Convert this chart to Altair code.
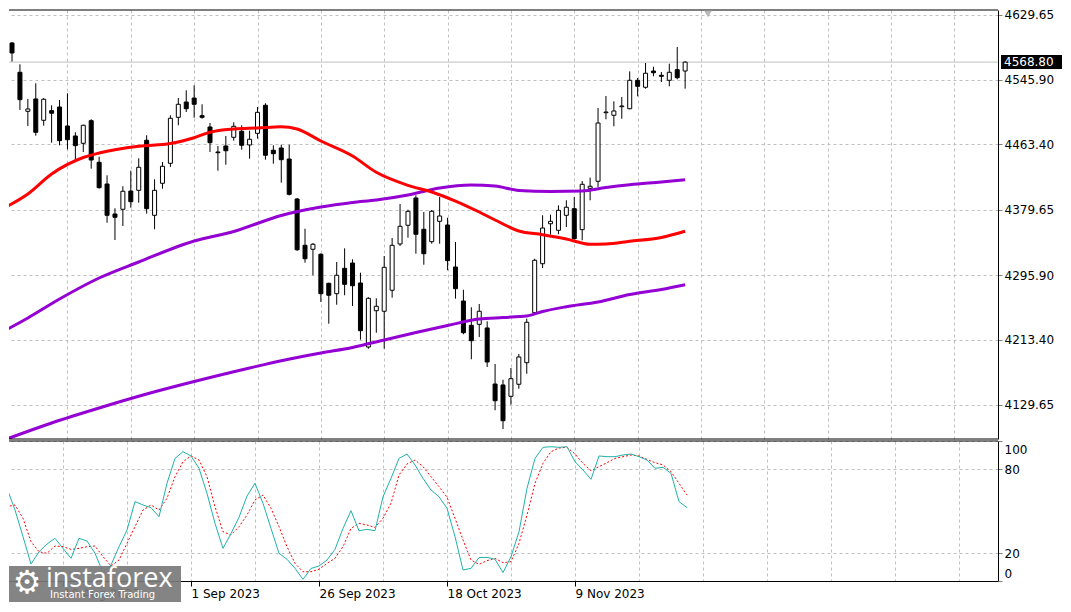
import altair as alt
import pandas as pd

# ---------------- data ----------------
# daily candles, bar index 0..85 (last bar = 30 Nov 2023)
opens = [4593.3, 4555.8, 4505.8, 4521.6, 4494.3, 4506.6, 4511.3, 4487.0, 4474.2, 4464.8,
         4493.8, 4440.5, 4412.7, 4374.3, 4380.3, 4403.7, 4404.6, 4468.7, 4372.6, 4413.6,
         4439.2, 4498.1, 4517.7, 4522.8, 4500.2, 4485.7, 4453.7, 4461.4, 4472.5, 4480.2,
         4462.7, 4477.6, 4513.5, 4455.9, 4458.8, 4444.7, 4393.5, 4334.2, 4329.1, 4322.7,
         4285.5, 4272.2, 4304.7, 4311.5, 4285.9, 4203.9, 4250.4, 4249.7, 4276.6, 4335.9,
         4359.8, 4394.8, 4354.7, 4338.8, 4364.9, 4360.2, 4306.4, 4262.8, 4231.7, 4233.0,
         4228.3, 4156.5, 4155.3, 4140.8, 4156.2, 4183.8, 4247.9, 4310.6, 4361.8, 4353.4,
         4372.6, 4381.1, 4354.2, 4407.2, 4416.2, 4504.0, 4500.7, 4511.7, 4509.1, 4545.5,
         4536.6, 4557.4, 4551.9, 4545.5, 4559.1, 4557.4]
highs = [4594.6, 4566.0, 4521.6, 4541.7, 4522.8, 4513.5, 4520.3, 4528.9, 4478.9, 4488.6,
         4495.6, 4447.7, 4423.8, 4381.6, 4409.8, 4429.7, 4445.6, 4475.1, 4418.7, 4440.9,
         4500.7, 4522.8, 4532.7, 4539.1, 4514.8, 4490.8, 4461.4, 4474.2, 4491.7, 4487.9,
         4481.0, 4511.3, 4516.1, 4462.3, 4463.0, 4463.0, 4394.8, 4355.4, 4337.1, 4323.9,
         4286.3, 4312.8, 4330.3, 4316.3, 4299.1, 4267.6, 4266.3, 4320.5, 4343.5, 4387.1,
         4379.8, 4398.2, 4376.8, 4379.4, 4396.0, 4369.5, 4338.4, 4277.3, 4254.8, 4259.0,
         4236.8, 4182.2, 4162.0, 4177.0, 4195.0, 4240.2, 4317.0, 4372.6, 4373.4, 4385.4,
         4391.8, 4396.0, 4416.5, 4420.8, 4510.0, 4525.4, 4518.6, 4524.1, 4557.0, 4548.5,
         4567.7, 4562.9, 4556.1, 4566.8, 4588.2, 4569.9]
lows = [4569.6, 4507.5, 4487.0, 4474.6, 4487.4, 4465.6, 4462.3, 4457.1, 4443.4, 4453.7,
        4432.3, 4406.7, 4363.1, 4341.0, 4358.9, 4382.3, 4388.7, 4374.7, 4354.7, 4406.7,
        4434.5, 4487.9, 4504.9, 4497.6, 4496.3, 4453.7, 4429.7, 4437.4, 4468.2, 4456.6,
        4445.1, 4470.7, 4443.8, 4438.7, 4414.4, 4398.0, 4327.0, 4311.9, 4295.8, 4261.6,
        4233.8, 4258.1, 4270.2, 4256.4, 4213.3, 4201.7, 4222.2, 4201.7, 4267.1, 4333.3,
        4343.9, 4323.4, 4309.3, 4336.2, 4336.2, 4302.2, 4265.8, 4220.2, 4188.2, 4216.7,
        4178.3, 4122.9, 4098.9, 4130.0, 4150.5, 4169.7, 4246.6, 4305.1, 4347.8, 4348.3,
        4357.6, 4341.9, 4340.6, 4391.8, 4408.9, 4495.6, 4486.6, 4496.3, 4508.4, 4525.0,
        4534.8, 4550.6, 4543.3, 4537.8, 4546.8, 4534.8]
closes = [4580.5, 4520.7, 4508.8, 4478.9, 4521.2, 4503.3, 4468.2, 4469.4, 4461.8, 4487.9,
          4443.4, 4408.0, 4372.6, 4370.1, 4403.4, 4390.0, 4434.1, 4381.1, 4404.6, 4435.4,
          4496.9, 4514.8, 4509.1, 4514.8, 4498.1, 4465.6, 4452.8, 4455.3, 4486.6, 4462.3,
          4470.0, 4504.5, 4449.5, 4451.5, 4443.8, 4399.5, 4328.5, 4317.0, 4335.5, 4272.2,
          4270.2, 4295.8, 4284.2, 4282.4, 4224.8, 4266.3, 4256.1, 4306.0, 4334.2, 4358.5,
          4377.7, 4348.3, 4323.4, 4377.7, 4371.7, 4314.5, 4278.6, 4222.2, 4212.0, 4249.7,
          4184.7, 4135.1, 4109.5, 4163.3, 4191.1, 4235.6, 4315.0, 4356.3, 4364.9, 4379.0,
          4382.9, 4342.6, 4412.3, 4409.8, 4490.8, 4504.9, 4506.2, 4512.6, 4545.5, 4537.8,
          4554.5, 4555.2, 4550.6, 4555.8, 4548.8, 4568.8]

# moving averages read at selected bars
red_ma_bars = [-1, 2, 5, 9, 11, 16, 20, 23, 25, 28, 31, 34, 36, 39, 43, 46, 50, 53, 56, 59,
               61, 64, 67, 70, 73, 75, 78, 82, 85]
red_ma_vals = [4382.0, 4399.9, 4425.5, 4446.6, 4452.4, 4461.1, 4464.6, 4472.0, 4479.0, 4483.1,
               4484.4, 4486.1, 4483.1, 4467.8, 4448.6, 4427.7, 4411.0, 4402.5, 4390.9, 4376.8,
               4366.6, 4352.5, 4347.8, 4342.3, 4335.5, 4335.9, 4339.3, 4344.2, 4352.1]
mid_ma_bars = [-1, 2, 6, 11, 16, 23, 28, 34, 39, 43, 46, 50, 54, 58, 61, 64, 68, 72, 75, 78, 82, 85]
mid_ma_vals = [4224.4, 4241.1, 4265.4, 4292.3, 4312.8, 4339.7, 4351.9, 4372.4, 4383.2, 4389.0,
               4392.2, 4398.6, 4407.6, 4411.4, 4410.1, 4404.4, 4403.1, 4403.7, 4408.2, 4411.8,
               4415.3, 4418.2]
slow_ma_bars = [-1, 5, 11, 17, 23, 30, 34, 39, 43, 47, 51, 55, 59, 62, 65, 67, 70, 74, 78, 82, 85]
slow_ma_vals = [4084.8, 4106.6, 4125.8, 4143.7, 4159.7, 4177.0, 4186.4, 4196.2, 4203.3, 4212.9,
                4222.5, 4231.5, 4239.8, 4241.7, 4243.6, 4249.4, 4255.5, 4261.6, 4271.2, 4277.6,
                4283.7]

# stochastic oscillator, bars -1..85
stoch_bars = list(range(-1, 86))
stoch_main = [52, 66.2, 50.7, 31.7, 12.1, 20.9, 26.4, 30.5, 23.3, 16.2, 30.5, 28.6, 19.8, 6.0,
              11.4, 24.5, 36.4, 56.7, 54.3, 52.4, 45.9, 69.8, 87.6, 92.4, 89.3, 80.5, 62.6,
              41.2, 23.3, 34.0, 45.5, 60.7, 69.8, 55.5, 37.6, 19.8, 15.5, 9.0, 1.2, 9.0, 10.7,
              15.0, 22.6, 37.6, 50.2, 35.9, 36.9, 35.9, 60.2, 73.3, 87.6, 90.7, 82.9, 73.3,
              65.0, 60.2, 51.9, 31.7, 7.9, 9.0, 16.7, 16.9, 15.5, 6.0, 17.4, 35.2, 66.2, 87.6,
              95.5, 95.9, 95.5, 95.9, 85.2, 79.3, 72.6, 89.3, 88.8, 88.8, 90.0, 90.7, 88.8,
              86.4, 80.5, 81.2, 76.9, 56.7, 52.4]
stoch_signal = [50, 53.1, 54.3, 44.8, 28.1, 20.9, 19.8, 25.0, 24.5, 22.6, 23.3, 24.5, 25.0,
                17.4, 10.7, 15.0, 26.9, 38.8, 50.7, 54.3, 50.7, 59.1, 74.5, 85.2, 89.3, 86.4,
                74.5, 53.1, 35.2, 32.9, 38.8, 47.1, 57.9, 61.4, 51.9, 38.8, 24.5, 12.6, 6.6,
                6.6, 8.4, 12.6, 16.2, 24.5, 37.6, 41.2, 40.0, 38.3, 44.8, 55.5, 75.7, 83.6,
                86.4, 81.7, 74.5, 67.4, 59.8, 44.8, 29.3, 15.0, 11.9, 14.5, 16.2, 13.1, 13.8,
                26.9, 47.1, 69.8, 84.0, 92.4, 95.0, 95.5, 90.7, 84.0, 78.8, 81.7, 84.5, 87.6,
                88.8, 90.0, 89.3, 86.9, 84.5, 82.9, 78.1, 69.8, 61.4]

price_ticks = [4629.65, 4545.90, 4463.40, 4379.65, 4295.90, 4213.40, 4129.65]
osc_ticks = [0, 20, 80, 100]
grid_bars = list(range(7, 120, 8))
date_tick_bars = [7, 23, 39, 55, 71]
date_tick_labels = ["10 Aug 2023", "1 Sep 2023", "26 Sep 2023", "18 Oct 2023", "9 Nov 2023"]
last_price = 4568.80

# ---------------- layout ----------------
W = 989
H_MAIN = 429
H_OSC = 140
X_DOMAIN = [0.25, 123.875]
Y_DOMAIN = [4086.09, 4635.55]
GRID = "#C0C0C0"
FONT = "DejaVu Sans"

candles = pd.DataFrame({"bar": list(range(len(opens))), "o": opens, "h": highs,
                        "l": lows, "c": closes})
red_df = pd.DataFrame({"bar": red_ma_bars, "v": red_ma_vals})
mid_df = pd.DataFrame({"bar": mid_ma_bars, "v": mid_ma_vals})
slow_df = pd.DataFrame({"bar": slow_ma_bars, "v": slow_ma_vals})
stoch_df = pd.DataFrame({"bar": stoch_bars, "k": stoch_main, "d": stoch_signal})
last_df = pd.DataFrame({"v": [last_price], "txt": [f"{last_price:.2f}"]})
one_df = pd.DataFrame({"a": [0]})

x_scale = alt.Scale(domain=X_DOMAIN, nice=False, zero=False)
y_scale = alt.Scale(domain=Y_DOMAIN, nice=False, zero=False)
o_scale = alt.Scale(domain=[0, 100], nice=False, zero=False)

x_axis_main = alt.Axis(values=grid_bars, grid=True, gridColor=GRID, gridDash=[3, 3],
                       labels=False, ticks=False, domain=False, title=None)
y_axis_main = alt.Axis(orient="right", values=price_ticks, format=".2f", grid=True,
                       gridColor=GRID, gridDash=[3, 3], tickColor="#808080", tickSize=4,
                       labelPadding=2, domainColor="black", labelColor="black",
                       labelFontSize=12, labelFont=FONT, title=None, labelOverlap=False)


def XM(field):
    return alt.X(field, type="quantitative", scale=x_scale, axis=x_axis_main)


def YM(field):
    return alt.Y(field, type="quantitative", scale=y_scale, axis=y_axis_main)


price_line = alt.Chart(last_df).mark_rule(color=GRID, strokeWidth=1).encode(y=YM("v"))
wicks = alt.Chart(candles).mark_rule(color="black", strokeWidth=1, clip=True).encode(
    x=XM("bar"), y=YM("l"), y2="h:Q")
bodies = alt.Chart(candles).mark_bar(size=4, stroke="black", strokeWidth=1, clip=True).encode(
    x=XM("bar"), y=YM("o"), y2="c:Q",
    fill=alt.condition("datum.c >= datum.o", alt.value("white"), alt.value("black")))


def ma_line(df, color):
    return alt.Chart(df).mark_line(color=color, strokeWidth=3, clip=True,
                                   interpolate="monotone").encode(x=XM("bar"), y=YM("v"))


top_frame = alt.Chart(one_df).mark_rule(color="black", strokeWidth=1).encode(y=alt.value(0))
bot_frame = alt.Chart(one_df).mark_rule(color="black", strokeWidth=1).encode(y=alt.value(H_MAIN))
shift_mark = alt.Chart(one_df).mark_point(shape="triangle-down", filled=True, color="#B8B8B8",
                                          size=60, opacity=1).encode(
    x=alt.value(699), y=alt.value(4))
last_box = alt.Chart(last_df).mark_rect(color="black", yOffset=-7, y2Offset=7).encode(
    x=alt.value(W + 3), x2=alt.value(W + 64), y=YM("v"), y2="v:Q")
last_txt = alt.Chart(last_df).mark_text(color="white", font=FONT, fontSize=12, align="left",
                                        baseline="middle").encode(
    x=alt.value(W + 6), y=YM("v"), text="txt:N")

main = alt.layer(price_line, wicks, bodies,
                 ma_line(slow_df, "#9400D3"), ma_line(mid_df, "#9400D3"),
                 ma_line(red_df, "#FF0000"),
                 top_frame, bot_frame, shift_mark, last_box, last_txt
                 ).properties(width=W, height=H_MAIN)

# ---------------- oscillator ----------------
label_expr = "".join(f"datum.value == {b} ? '{t}' : " for b, t in
                     zip(date_tick_bars, date_tick_labels)) + "''"
tick_test = " || ".join(f"datum.value == {b}" for b in date_tick_bars)

x_axis_osc = alt.Axis(values=grid_bars, grid=True, gridColor=GRID, gridDash=[3, 3],
                      labelExpr=label_expr, labelAlign="left", labelBaseline="top",
                      labelPadding=2, labelFlush=False, labelOverlap=False, labelBound=False,
                      tickSize=5, tickColor="black",
                      tickOpacity={"condition": {"test": tick_test, "value": 1}, "value": 0},
                      domainColor="black", labelColor="black", labelFontSize=12,
                      labelFont=FONT, title=None)
y_axis_osc = alt.Axis(orient="right", values=osc_ticks, grid=True, gridColor=GRID,
                      gridDash=[3, 3], tickColor="#808080", tickSize=4, labelPadding=2,
                      domainColor="black", labelColor="black", labelFontSize=12,
                      labelFont=FONT, title=None, labelOverlap=False,
                      labelOffset={"condition": [{"test": "datum.value == 100", "value": 8},
                                                 {"test": "datum.value == 0", "value": -8}],
                                   "value": 0})


def XO(field):
    return alt.X(field, type="quantitative", scale=x_scale, axis=x_axis_osc)


def YO(field):
    return alt.Y(field, type="quantitative", scale=o_scale, axis=y_axis_osc)


k_line = alt.Chart(stoch_df).mark_line(color="#20B2AA", strokeWidth=1, clip=True).encode(
    x=XO("bar"), y=YO("k"))
d_line = alt.Chart(stoch_df).mark_line(color="#FF0000", strokeWidth=1, strokeDash=[2, 2],
                                       clip=True).encode(x=XO("bar"), y=YO("d"))
osc_top = alt.Chart(one_df).mark_rule(color="black", strokeWidth=1).encode(y=alt.value(0))

logo_box = alt.Chart(one_df).mark_rect(color="#7a7a7a", opacity=0.92).encode(
    x=alt.value(0), x2=alt.value(172), y=alt.value(125), y2=alt.value(161))
logo_gear = alt.Chart(pd.DataFrame({"t": ["\u2699"]})).mark_text(
    color="white", font=FONT, fontSize=32, align="center", baseline="middle").encode(
    x=alt.value(18), y=alt.value(142), text="t:N")
logo_name = alt.Chart(pd.DataFrame({"t": ["instaforex"]})).mark_text(
    color="white", font="Open Sans", fontSize=27, align="left", baseline="middle").encode(
    x=alt.value(37), y=alt.value(138), text="t:N")
logo_sub = alt.Chart(pd.DataFrame({"t": ["Instant Forex Trading"]})).mark_text(
    color="white", font=FONT, fontSize=10, align="left", baseline="middle").encode(
    x=alt.value(41), y=alt.value(154), text="t:N")

osc = alt.layer(d_line, k_line, osc_top, logo_box, logo_gear, logo_name, logo_sub
                ).properties(width=W, height=H_OSC)

chart = alt.vconcat(main, osc, spacing=0).resolve_scale(
    x="independent", y="independent").resolve_axis(x="independent", y="independent"
).properties(padding=0, background="white").configure_view(stroke=None)

chart.save("out.html", embed_options={"renderer": "svg", "actions": False})
